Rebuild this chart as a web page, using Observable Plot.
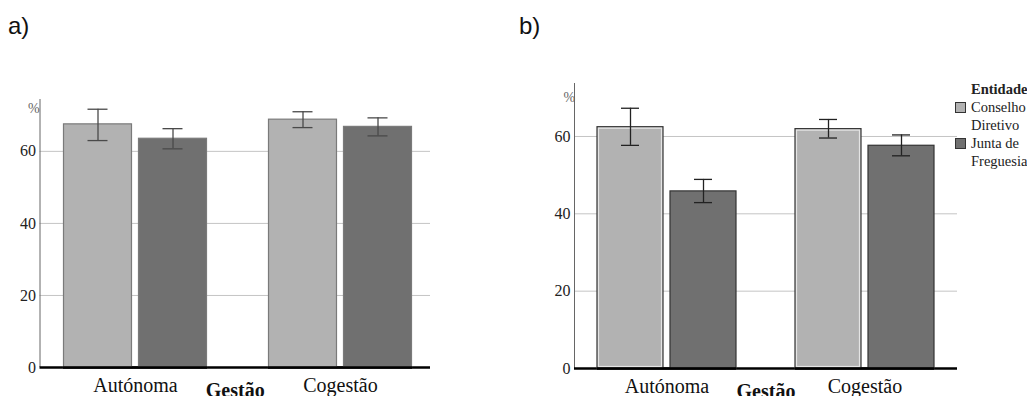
<!DOCTYPE html>
<html>
<head>
<meta charset="utf-8">
<script src="https://cdn.jsdelivr.net/npm/d3@7"></script>
<script src="https://cdn.jsdelivr.net/npm/@observablehq/plot@0.6"></script>
<style>
  html, body { margin: 0; padding: 0; background: #fff; }
  #wrap { position: relative; width: 1027px; height: 396px; overflow: hidden; }
  .panel { position: absolute; top: 0; height: 396px; }
  .panel svg { position: absolute; top: 0; left: 0; max-width: none !important; }
  .panel svg text { font-family: "Liberation Serif", "Times New Roman", serif !important; }
  .tag { position: absolute; top: 12px; font-family: "Liberation Sans", Arial, sans-serif; font-size: 24px; color: #111; }
  .legend { position: absolute; left: 955px; top: 80px; font-family: "Liberation Serif", serif; font-size: 14.5px; color: #222; line-height: 18px; }
  .legend .title { font-weight: bold; margin-left: 16px; }
  .legend .item { position: relative; padding-left: 16px; }
  .legend .sw { position: absolute; left: 0; top: 4px; width: 9px; height: 9px; border: 1px solid #333; }
</style>
</head>
<body>
<div id="wrap">
  <div class="tag" style="left:8px">a)</div>
  <div class="tag" style="left:519px">b)</div>
  <div class="panel" id="pa" style="left:0px;width:520px"></div>
  <div class="panel" id="pb" style="left:520px;width:507px"></div>
  <div class="legend" id="leg"></div>
</div>
<script>
const gestao = ["Autónoma", "Cogestão"];
const entidade = ["Conselho Diretivo", "Junta de Freguesia"];
const entidadeLines = [["Conselho", "Diretivo"], ["Junta de", "Freguesia"]];
const yTicks = [0, 20, 40, 60];
// panel a (order: Autónoma-Conselho, Autónoma-Junta, Cogestão-Conselho, Cogestão-Junta)
const aMean = [67.5, 63.5, 68.8, 66.8];
const aLow  = [63.0, 60.7, 66.6, 64.3];
const aHigh = [71.7, 66.3, 71.0, 69.3];
// panel b
const bMean = [62.4, 45.8, 61.9, 57.6];
const bLow  = [57.7, 42.9, 59.6, 55.0];
const bHigh = [67.3, 48.9, 64.4, 60.4];
const fills = ["#b2b2b2", "#707070"];

function rows(mean, low, high) {
  const out = [];
  gestao.forEach((g, gi) => entidade.forEach((e, ei) => {
    const i = gi * 2 + ei;
    out.push({gestao: g, entidade: e, mean: mean[i], low: low[i], high: high[i]});
  }));
  return out;
}

function panel(el, cfg) {
  const data = rows(cfg.mean, cfg.low, cfg.high);
  const serif = "Liberation Serif, Times New Roman, serif";
  const common = {
    width: cfg.width, height: 396,
    marginLeft: cfg.ml, marginRight: cfg.mr, marginTop: cfg.mt, marginBottom: cfg.mb,
    style: {fontFamily: serif, fontSize: "16px", color: "#222", background: "transparent", overflow: "visible", maxWidth: "none"}
  };
  // background layer: grid, y axis, labels
  const back = Plot.plot({
    ...common,
    x: {domain: [0, 1], axis: null},
    y: {domain: [0, cfg.ymax]},
    marks: [
      Plot.ruleY(yTicks.slice(1), {stroke: "#c4c4c4", strokeWidth: 1}),
      Plot.ruleX([0], {stroke: "#666", strokeWidth: 1}),
      Plot.ruleY([0], {stroke: "#000", strokeWidth: 2.5}),
      Plot.axisY({ticks: yTicks, tickSize: 0, tickPadding: 4, label: null, fontSize: 16, fontFamily: serif, fill: "#222"}),
      Plot.text(["%"], {frameAnchor: "top-left", dx: cfg.pctDx, dy: cfg.pctDy, fill: "#666", fontSize: 14, fontFamily: serif}),
      Plot.text(["Gestão"], {frameAnchor: "bottom", dy: 29, fontSize: 20, fontWeight: "bold", fontFamily: serif, fill: "#111"})
    ]
  });
  // foreground layer: bars and error bars
  const front = Plot.plot({
    ...common,
    fx: {domain: gestao, paddingInner: cfg.pi, paddingOuter: cfg.po, align: cfg.align},
    x: {domain: entidade, paddingInner: 0.1, paddingOuter: 0, axis: null},
    y: {domain: [0, cfg.ymax], axis: null},
    color: {domain: entidade, range: fills},
    marks: [
      Plot.barY(data, {fx: "gestao", x: "entidade", y: "mean", fill: "entidade", stroke: cfg.barStroke, strokeWidth: 1.2}),
      cfg.innerStroke ? Plot.barY(data.filter(d => d.entidade === entidade[0]), {fx: "gestao", x: "entidade", y: "mean", fill: "none", stroke: cfg.innerStroke, strokeWidth: 1.2, inset: 1.5}) : null,
      Plot.ruleX(data, {fx: "gestao", x: "entidade", y1: "low", y2: "high", stroke: cfg.errStroke, strokeWidth: 1.3}),
      Plot.tickY(data, {fx: "gestao", x: "entidade", y: "low", stroke: cfg.errStroke, strokeWidth: 1.3, insetLeft: 24, insetRight: 24}),
      Plot.tickY(data, {fx: "gestao", x: "entidade", y: "high", stroke: cfg.errStroke, strokeWidth: 1.3, insetLeft: 24, insetRight: 24}),
      Plot.ruleY([0], {stroke: "#000", strokeWidth: 2.5}),
      Plot.axisFx({anchor: "bottom", tickSize: 0, tickPadding: 10, label: null, fontSize: 20, fontFamily: serif, fill: "#111"})
    ]
  });
  el.append(back, front);
}

panel(document.getElementById("pa"), {
  width: 520, ml: 39.5, mr: 90, mt: 99, mb: 29, ymax: 74.4,
  pi: 0.297, po: 0.0996, align: 0.567, pctDx: -12, pctDy: 4,
  mean: aMean, low: aLow, high: aHigh, barStroke: "#7a7a7a", errStroke: "#4a4a4a"
});
panel(document.getElementById("pb"), {
  width: 507, ml: 54, mr: 70, mt: 83, mb: 28, ymax: 73.7,
  pi: 0.299, po: 0.114, align: 0.5, pctDx: -11, pctDy: 9,
  mean: bMean, low: bLow, high: bHigh, barStroke: "#333", errStroke: "#222", innerStroke: "#e4e4e4"
});

const leg = document.getElementById("leg");
leg.innerHTML = `<div class="title">Entidade</div>` + entidade.map((e, i) =>
  `<div class="item"><span class="sw" style="background:${fills[i]}"></span>${entidadeLines[i].join("<br>")}</div>`).join("");
</script>
</body>
</html>
